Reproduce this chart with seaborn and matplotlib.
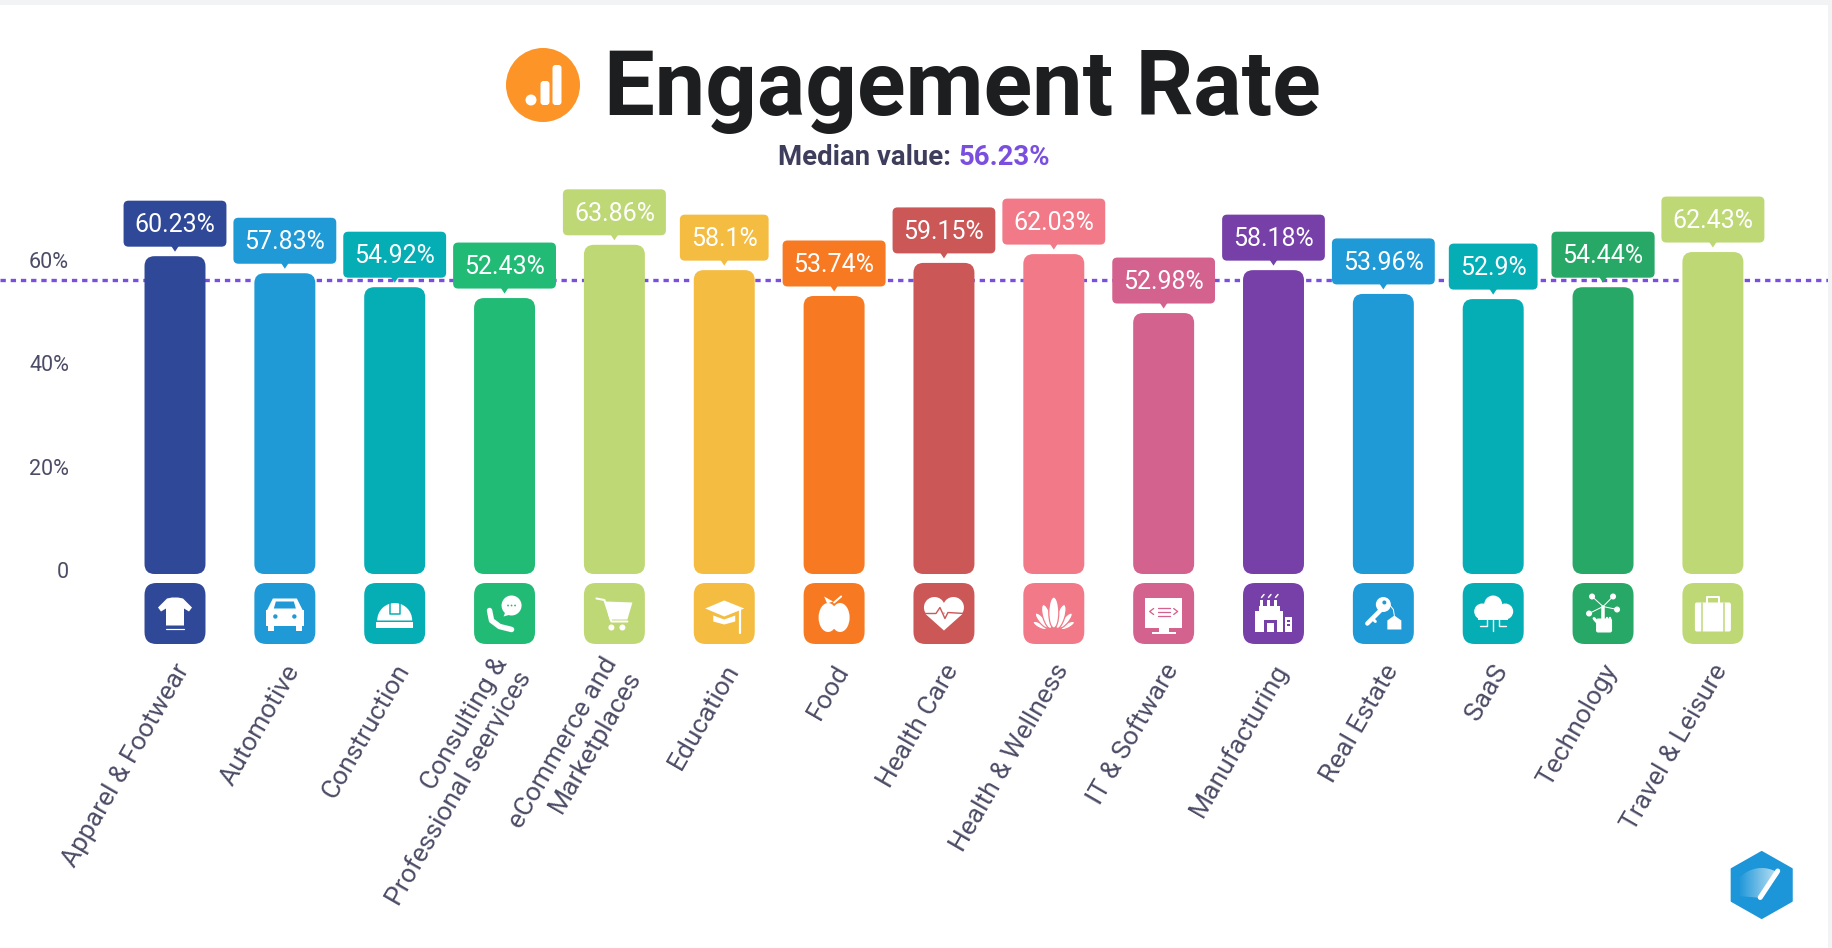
import numpy as np
import pandas as pd
import matplotlib
matplotlib.use('Agg')
import matplotlib.pyplot as plt
import seaborn as sns
from matplotlib.patches import Circle, Ellipse, FancyBboxPatch, Polygon, Rectangle, Wedge
from matplotlib.transforms import ScaledTranslation

# --- data ---
categories = ['Apparel & Footwear', 'Automotive', 'Construction', 'Consulting &\nProfessional seervices',
              'eCommerce and\nMarketplaces', 'Education', 'Food', 'Health Care', 'Health & Wellness',
              'IT & Software', 'Manufacturing', 'Real Estate', 'SaaS', 'Technology', 'Travel & Leisure']
# the printed labels and the drawn bar heights differ in the original, so both are kept
value_labels = ['60.23%', '57.83%', '54.92%', '52.43%', '63.86%', '58.1%', '53.74%', '59.15%', '62.03%',
                '52.98%', '58.18%', '53.96%', '52.9%', '54.44%', '62.43%']
bar_heights = [60.7, 57.4, 54.7, 52.6, 62.9, 58.0, 53.0, 59.4, 61.1, 49.7, 58.0, 53.4, 52.4, 54.7, 61.5]
bar_colors = ['#2f4897', '#1f9ad6', '#05adb5', '#22bb76', '#bfd876', '#f4bc41', '#f77a22', '#cc5757',
              '#f27a88', '#d4628e', '#773fa8', '#1f9ad6', '#05adb5', '#28a866', '#bfd876']
y_ticks = [0, 20, 40, 60]
y_tick_labels = ['0', '20%', '40%', '60%']
median_value = 56.1
median_text = '56.23%'

W, H = 1833, 948
TEXT = '#4c4c66'
PURPLE = '#7a4fe0'
WHITE = 'white'

sns.set_theme(style='white')
plt.rcParams['font.family'] = ['Roboto', 'DejaVu Sans']

fig = plt.figure(figsize=(W / 100, H / 100), dpi=100, facecolor='white')

# chart axes: x=0 px to full width, y=0 px down to 655 px, zero at 570 px, 5.17 px per percent
ax = fig.add_axes([0, (H - 655) / H, 1, 655 / H])
ax.patch.set_alpha(0)
df = pd.DataFrame({'category': categories, 'height': bar_heights})
sns.barplot(data=df, x='category', y='height', hue='category', palette=bar_colors, legend=False,
            width=0.555, ax=ax)
ax.set_xlim((0 - 175) / 109.85, (W - 175) / 109.85)
ax.set_ylim(-(655 - 570) / 5.17, 570 / 5.17)
ax.set_xlabel('')
ax.set_ylabel('')
sns.despine(ax=ax, left=True, bottom=True, top=True, right=True)
ax.grid(False)
ax.set_yticks(y_ticks, y_tick_labels)
ax.tick_params(axis='y', length=0, pad=-49.7, labelsize=15.5, labelcolor=TEXT)
ax.tick_params(axis='x', length=0, pad=8, labelsize=19, labelcolor=TEXT)
shift = ScaledTranslation(9 / 100, 0, fig.dpi_scale_trans)
for lab in ax.get_xticklabels():
    lab.set(rotation=60, ha='right', va='center', rotation_mode='anchor', multialignment='right',
            linespacing=1.2)
    lab.set_transform(lab.get_transform() + shift)
ax.axhline(median_value, color=PURPLE, lw=2.4, ls=(0, (1.6, 1.46)), zorder=0)

# overlay in pixel coordinates for the rounded shapes and the decoration
ov = fig.add_axes([0, 0, 1, 1], zorder=5)
ov.set_xlim(0, W)
ov.set_ylim(H, 0)
ov.axis('off')
renderer = fig.canvas.get_renderer()


def rbox(x0, y0, x1, y1, r, color, z=2):
    ov.add_patch(FancyBboxPatch((x0 + r, y0 + r), x1 - x0 - 2 * r, y1 - y0 - 2 * r,
                                boxstyle=f'round,pad={r},rounding_size={r}', fc=color, ec='none', zorder=z))


class Icon:
    """Draws white glyph parts relative to the centre of a tile, in pixels."""

    def __init__(self, cx, cy, bg):
        self.cx, self.cy, self.bg = cx, cy, bg

    def poly(self, pts, color=WHITE, z=4):
        pts = [(self.cx + a, self.cy + b) for a, b in pts]
        ov.add_patch(Polygon(pts, closed=True, fc=color, ec='none', zorder=z))

    def rect(self, x0, y0, x1, y1, color=WHITE, z=4):
        ov.add_patch(Rectangle((self.cx + x0, self.cy + y0), x1 - x0, y1 - y0, fc=color, ec='none', zorder=z))

    def circ(self, x, y, r, color=WHITE, z=4):
        ov.add_patch(Circle((self.cx + x, self.cy + y), r, fc=color, ec='none', zorder=z))

    def ell(self, x, y, w, h, angle=0, color=WHITE, z=4, edge='none'):
        ov.add_patch(Ellipse((self.cx + x, self.cy + y), w, h, angle=angle, fc=color, ec=edge, lw=0.9, zorder=z))

    def line(self, pts, lw=1.5, color=WHITE, z=4):
        xs = [self.cx + p[0] for p in pts]
        ys = [self.cy + p[1] for p in pts]
        ov.plot(xs, ys, color=color, lw=lw * 0.72, solid_capstyle='round', solid_joinstyle='round', zorder=z)


def shirt(i):
    i.poly([(-8, -15), (-3, -16), (3, -16), (8, -15), (17, -6), (14, -2), (9, -5), (9, 12), (-9, 12),
            (-9, -5), (-14, -2), (-17, -6)])
    i.line([(-9, 15), (9, 15)], 1.2)


def car(i):
    i.poly([(-12, -15), (12, -15), (18, -3), (-18, -3)])
    i.poly([(-9, -12), (9, -12), (11, -5), (-11, -5)], i.bg, 5)
    i.rect(-19, -4, 19, 12)
    i.rect(-17, 11, -11, 17)
    i.rect(11, 11, 17, 17)
    i.circ(-9.5, 3, 2.2, i.bg, 5)
    i.circ(9.5, 3, 2.2, i.bg, 5)


def helmet(i):
    ov.add_patch(Wedge((i.cx, i.cy + 7), 17.5, 180, 360, fc=WHITE, ec='none', zorder=4))
    i.rect(-18.5, 8, 18.5, 14)
    i.line([(-5, -12), (-5, 0), (5, 0), (5, -12)], 1.5, i.bg, 5)


def phone(i):
    i.circ(7, -8, 10)
    i.poly([(1, -2), (-1, 3), (6, 1)])
    for dx in (3.5, 7, 10.5):
        i.circ(dx, -8, 0.9, i.bg, 5)
    i.line([(-15, -3), (-13, 7), (-5, 13), (7, 16)], 5.5)


def cart(i):
    i.line([(-18, -15), (-10, -13.5), (-3, 8), (13, 8)], 2)
    i.poly([(-9, -12), (18, -11), (13, 6), (-5, 6)])
    i.circ(-3, 14, 3)
    i.circ(8, 14, 3)


def cap(i):
    i.poly([(-19, -5), (0, -13), (20, -5), (0, 3)])
    i.poly([(-11, 2), (0, 6), (11, 2), (11, 8), (0, 11), (-11, 8)])
    i.line([(16, -4), (16, 19)], 2.2)


def apple(i):
    i.ell(-6, 4, 19, 29)
    i.ell(6, 4, 19, 29)
    i.poly([(-10, -17), (-1, -12), (-7, -10)])
    i.line([(0, -11), (7, -17)], 2)


def heart(i):
    i.circ(-9.5, -6, 10.5)
    i.circ(9.5, -6, 10.5)
    i.poly([(-19, 0), (19, 0), (0, 17)])
    i.line([(-20, 0), (-8, 0), (-4, -6), (1, 5), (4, -1), (20, 0)], 1.4, i.bg, 5)


def lotus(i):
    # outer petals first, each one edged in the tile colour so they stay apart
    for dx, dy, w, h, a, z in [(14, 12, 5, 15, 62, 4), (12, 7, 6, 19, 40, 5), (7, 3, 8, 25, 17, 6)]:
        i.ell(dx, dy, w, h, a, z=z, edge=i.bg)
        i.ell(-dx, dy, w, h, -a, z=z, edge=i.bg)
    i.ell(0, -1, 10, 31, z=7, edge=i.bg)


def monitor(i):
    i.rect(-18.5, -16, 18.5, 14)
    i.rect(-5, 14, 5, 18)
    i.rect(-12, 18, 12, 20.5)
    i.line([(-10, -5), (-14, -2), (-10, 1)], 1.3, i.bg, 5)
    i.line([(10, -5), (14, -2), (10, 1)], 1.3, i.bg, 5)
    for dy in (-6, -2, 2):
        i.line([(-6, dy), (6, dy)], 1.3, i.bg, 5)


def factory(i):
    i.rect(-14, -8, 7, -2)
    i.rect(-18, -3, 10, 18)
    i.rect(-9, 6, 4, 18, i.bg, 5)
    i.rect(-6, 9, 1, 18, WHITE, 6)
    i.rect(12, 3, 18.5, 18)
    for dy in (6, 10):
        i.rect(14, dy, 17, dy + 2, i.bg, 5)
    for dx in (-12, -5, 2):
        i.rect(dx - 1.5, -14, dx + 1.5, -8)
        i.line([(dx, -16), (dx + 2.5, -19)], 1.5)


def key(i):
    i.circ(0, -9, 7.5)
    i.circ(1, -11, 2, i.bg, 5)
    i.line([(-2, -4), (-16, 10)], 4.5)
    i.line([(-11, 5), (-8, 8)], 3)
    i.line([(6, -9), (10, -4), (11, 2)], 1)
    i.poly([(4, 7), (11, 2), (18, 7), (18, 16), (4, 16)])


def cloud(i):
    i.circ(-11, -2, 8)
    i.circ(0, -9, 9)
    i.circ(12, -2, 8)
    i.rect(-15, -2, 15, 6)
    i.line([(0, 6), (0, 17)], 1.4)
    i.line([(-6, 6), (-6, 12), (-13, 12)], 1.4)
    i.line([(6, 6), (6, 12), (13, 12)], 1.4)


def hand(i):
    for x, y in [(-11, -17), (10, -17), (-14, 0), (14, -4)]:
        i.line([(0, -7), (x, y)], 1)
        i.circ(x, y, 3)
    i.line([(0, -7), (0, 8)], 3.5)
    ov.add_patch(FancyBboxPatch((i.cx - 5, i.cy + 7), 12, 10, boxstyle='round,pad=2,rounding_size=2',
                                fc=WHITE, ec='none', zorder=4))
    i.line([(-9, 5), (-4, 11)], 3)
    for dx in (3.5, 6.5):
        i.line([(dx, 4), (dx, 9)], 2.5)


def suitcase(i):
    ov.add_patch(FancyBboxPatch((i.cx - 16, i.cy - 9), 32, 25, boxstyle='round,pad=2,rounding_size=2',
                                fc=WHITE, ec='none', zorder=4))
    i.line([(-11, -11), (-11, 18)], 1.5, i.bg, 5)
    i.line([(11, -11), (11, 18)], 1.5, i.bg, 5)
    i.line([(-6, -11), (-6, -17), (6, -17), (6, -11)], 2)


icon_funcs = [shirt, car, helmet, phone, cart, cap, apple, heart, lotus, monitor, factory, key, cloud, hand,
              suitcase]

# swap the square seaborn bars for rounded ones at the same places
bars = list(ax.patches)
to_px = ax.transData.transform
for bar, color, text, draw_icon in zip(bars, bar_colors, value_labels, icon_funcs):
    bar.set_visible(False)
    x0, y_top = to_px((bar.get_x(), bar.get_height()))
    x1, _ = to_px((bar.get_x() + bar.get_width(), 0))
    y_top = H - y_top
    cx = (x0 + x1) / 2
    rbox(x0, y_top, x1, 574, 10, color)
    rbox(x0, 583, x1, 644, 12, color)
    draw_icon(Icon(cx, 613.5, color))

    # value label on its little flag
    box_bottom = y_top - 9.5
    box_mid = box_bottom - 23
    t = ov.text(cx, box_mid + 1.5, text, color='white', fontsize=18, ha='center', va='center', zorder=6)
    half = t.get_window_extent(renderer).width / 2 + 11
    rbox(cx - half, box_bottom - 46, cx + half, box_bottom, 5, color, z=3)
    ov.add_patch(Polygon([(cx - 4, box_bottom - 1), (cx + 4, box_bottom - 1), (cx, box_bottom + 5)],
                         fc=color, ec='none', zorder=3))

# frame strips of the screenshot
ov.add_patch(Rectangle((0, 0), W, 5, fc='#f2f3f5', ec='none'))
ov.add_patch(Rectangle((W - 5, 0), 5, H, fc='#f2f3f5', ec='none'))

# title with the round analytics badge
ov.add_patch(Circle((543, 85), 37, fc='#fd9427', ec='none'))
ov.add_patch(Circle((531, 100), 5.5, fc='white', ec='none'))
for bx, top in [(545, 81), (557, 65)]:
    rbox(bx - 4.5, top, bx + 4.5, 105, 3, 'white', z=4)
ov.text(962.5, 115, 'Engagement Rate', color='#1d1e20', fontsize=65, fontweight='bold', ha='center',
        va='baseline')

# subtitle in two colours, centred as one line
s1 = ov.text(0, 165, 'Median value: ', color='#3e3d5c', fontsize=19.8, fontweight='bold', va='baseline')
s2 = ov.text(0, 165, median_text, color=PURPLE, fontsize=19.8, fontweight='bold', va='baseline')
w1 = s1.get_window_extent(renderer).width
w2 = s2.get_window_extent(renderer).width
s1.set_x(914 - (w1 + w2) / 2)
s2.set_x(914 - (w1 + w2) / 2 + w1)

# hexagon badge, bottom right
hx, hy = 1761.7, 885
hexagon = Polygon([(hx, hy - 33), (hx + 30, hy - 16), (hx + 30, hy + 16), (hx, hy + 33), (hx - 30, hy + 16),
                   (hx - 30, hy - 16)], fc='#1c96d8', ec='#1c96d8', lw=1.5, joinstyle='round', zorder=3)
ov.add_patch(hexagon)
fade = np.zeros((2, 64, 4))
fade[..., :3] = 1
fade[..., 3] = np.linspace(0, 0.75, 64)
img = ov.imshow(fade, extent=(hx - 24, hx + 18, hy + 14, hy - 17), aspect='auto', zorder=4)
clip = Wedge((hx + 0, hy + 13), 30, 185, 305, transform=ov.transData)
img.set_clip_path(clip)
ov.plot([hx - 1.5, hx + 16], [hy + 12.5, hy - 14], color='white', lw=3.6, solid_capstyle='round', zorder=5)
ov.set_xlim(0, W)
ov.set_ylim(H, 0)

plt.savefig('out.png', dpi=100)
plt.close()
